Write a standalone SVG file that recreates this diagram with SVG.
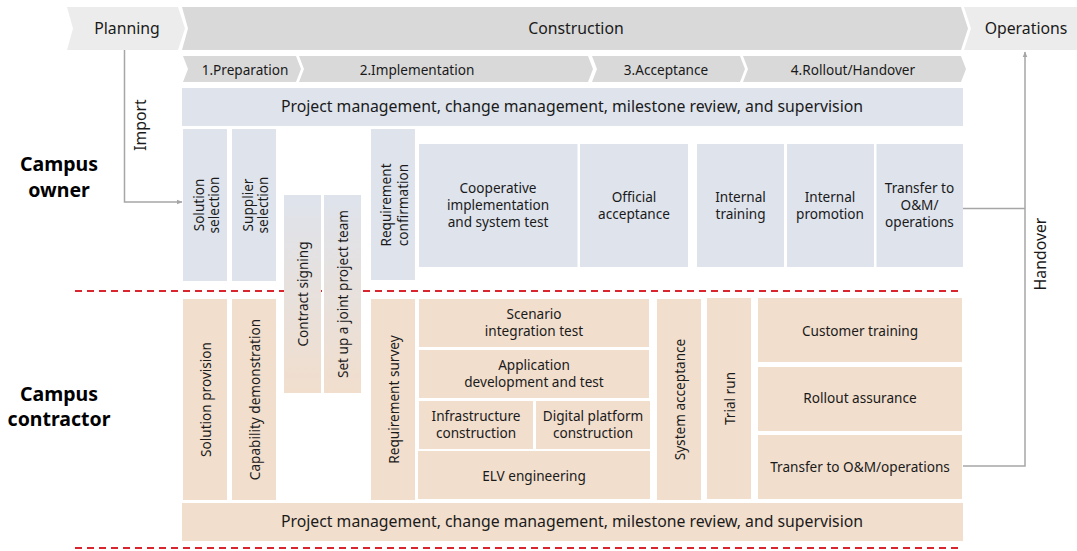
<svg xmlns="http://www.w3.org/2000/svg" width="1077" height="551" viewBox="0 0 1077 551">
<style>
text{font-family:"Noto Sans","Open Sans","Liberation Sans",sans-serif;fill:#1a1a1a;text-anchor:middle;dominant-baseline:central}
.t15{font-size:15.8px}
.t13{font-size:13.6px}
.lbl{font-size:19.5px;font-weight:bold;fill:#000}
.ow{fill:#dee3ec}
.co{fill:#f1decd}
.chl{fill:#ececec}
.chd{fill:#d9d9d9}
.conn{fill:none;stroke:#a6a6a6;stroke-width:1.5}
.dash{fill:none;stroke:#d9262e;stroke-width:2;stroke-dasharray:7 5}
</style>
<defs>
<linearGradient id="grad" x1="0" y1="0" x2="0" y2="1">
<stop offset="0" stop-color="#dee3ec"/>
<stop offset="1" stop-color="#f1decd"/>
</linearGradient>
<marker id="arr" viewBox="0 0 10 10" refX="9" refY="5" markerWidth="6" markerHeight="6" orient="auto" markerUnits="userSpaceOnUse">
<path d="M0,1 L10,5 L0,9 z" fill="#a6a6a6"/>
</marker>
</defs>

<g id="phases">
<g id="planning"><polygon class="chl" points="67,7 178,7 185,28.5 178,50 67,50 73,28.5"/><text class="t15" x="127" y="28">Planning</text></g>
<g id="construction"><polygon class="chd" points="182,7 961,7 968,28.5 961,50 182,50 188,28.5"/><text class="t15" x="576" y="28">Construction</text></g>
<g id="operations"><polygon class="chl" points="964,7 1077,7 1077,50 964,50 971,28.5"/><text class="t15" x="1026" y="28">Operations</text></g>
<g id="prep"><polygon class="chd" points="183,56 296,56 301,69 296,82 183,82 188,69"/><text class="t13" x="245" y="69">1.Preparation</text></g>
<g id="impl"><polygon class="chd" points="299,56 588,56 593,69 588,82 299,82 304,69"/><text class="t13" x="417" y="69">2.Implementation</text></g>
<g id="accept"><polygon class="chd" points="592,56 740,56 745,69 740,82 592,82 597,69"/><text class="t13" x="666" y="69">3.Acceptance</text></g>
<g id="rollout"><polygon class="chd" points="743,56 961,56 966,69 961,82 743,82 748,69"/><text class="t13" x="853" y="69">4.Rollout/Handover</text></g>
</g>

<g id="lanes">
<line class="dash" x1="75" y1="291" x2="962" y2="291"/>
<line class="dash" x1="75" y1="548" x2="962" y2="548"/>
<g id="owner-label"><text class="lbl" x="59" y="163">Campus</text><text class="lbl" x="59" y="189">owner</text></g>
<g id="contractor-label"><text class="lbl" x="59" y="393">Campus</text><text class="lbl" x="59" y="418">contractor</text></g>
</g>

<g id="connectors">
<polyline class="conn" points="124.5,50 124.5,202 182,202" marker-end="url(#arr)"/>
<text class="t15" transform="translate(140,125) rotate(-90)">Import</text>
<polyline class="conn" points="963,208.5 1025,208.5"/>
<polyline class="conn" points="963,466 1025,466 1025,52" marker-end="url(#arr)"/>
<text class="t15" transform="translate(1040,254) rotate(-90)">Handover</text>
</g>

<g id="pm-owner"><rect class="ow" x="182" y="88" width="781" height="38"/><text class="t15" x="572" y="106">Project management, change management, milestone review, and supervision</text></g>

<g id="solution-selection"><rect class="ow" x="183" y="129" width="44" height="152"/><text class="t13" transform="translate(205,205) rotate(-90)"><tspan x="0" y="-7.5">Solution</tspan><tspan x="0" y="8">selection</tspan></text></g>
<g id="supplier-selection"><rect class="ow" x="232" y="129" width="44" height="152"/><text class="t13" transform="translate(254,205) rotate(-90)"><tspan x="0" y="-7.5">Supplier</tspan><tspan x="0" y="8">selection</tspan></text></g>
<g id="req-confirm"><rect class="ow" x="371" y="129" width="44" height="151"/><text class="t13" transform="translate(393,205) rotate(-90)"><tspan x="0" y="-8.5">Requirement</tspan><tspan x="0" y="8.5">confirmation</tspan></text></g>
<g id="coop-impl"><rect class="ow" x="419" y="144" width="158.5" height="123"/><text class="t13" x="498" y="187">Cooperative</text><text class="t13" x="498" y="204">implementation</text><text class="t13" x="498" y="221">and system test</text></g>
<g id="official-accept"><rect class="ow" x="580" y="144" width="108" height="123"/><text class="t13" x="634" y="196">Official</text><text class="t13" x="634" y="213">acceptance</text></g>
<g id="internal-training"><rect class="ow" x="697" y="144" width="87" height="123"/><text class="t13" x="740.5" y="196">Internal</text><text class="t13" x="740.5" y="213">training</text></g>
<g id="internal-promotion"><rect class="ow" x="787" y="144" width="87" height="123"/><text class="t13" x="830" y="196">Internal</text><text class="t13" x="830" y="213">promotion</text></g>
<g id="transfer-owner"><rect class="ow" x="876.5" y="144" width="86.5" height="123"/><text class="t13" x="919.5" y="187">Transfer to</text><text class="t13" x="919.5" y="204">O&amp;M/</text><text class="t13" x="919.5" y="221">operations</text></g>

<g id="contract-signing"><rect fill="url(#grad)" x="284" y="195" width="37" height="198"/><text class="t13" transform="translate(302.5,294) rotate(-90)">Contract signing</text></g>
<g id="joint-team"><rect fill="url(#grad)" x="324" y="195" width="37" height="198"/><text class="t13" transform="translate(342.5,294) rotate(-90)">Set up a joint project team</text></g>

<g id="solution-provision"><rect class="co" x="183" y="299" width="44" height="201"/><text class="t13" transform="translate(205,399.5) rotate(-90)">Solution provision</text></g>
<g id="capability-demo"><rect class="co" x="232" y="299" width="44" height="201"/><text class="t13" transform="translate(254,399.5) rotate(-90)">Capability demonstration</text></g>
<g id="req-survey"><rect class="co" x="371" y="299" width="44" height="201"/><text class="t13" transform="translate(393,399.5) rotate(-90)">Requirement survey</text></g>
<g id="scenario-test"><rect class="co" x="419" y="299" width="230" height="48"/><text class="t13" x="534" y="313">Scenario</text><text class="t13" x="534" y="330">integration test</text></g>
<g id="app-dev"><rect class="co" x="419" y="350" width="230" height="48"/><text class="t13" x="534" y="364">Application</text><text class="t13" x="534" y="381">development and test</text></g>
<g id="infra"><rect class="co" x="419" y="401" width="114" height="48"/><text class="t13" x="476" y="415">Infrastructure</text><text class="t13" x="476" y="432">construction</text></g>
<g id="digital"><rect class="co" x="536" y="401" width="114" height="48"/><text class="t13" x="593" y="415">Digital platform</text><text class="t13" x="593" y="432">construction</text></g>
<g id="elv"><rect class="co" x="418" y="451" width="232" height="48"/><text class="t13" x="534" y="475">ELV engineering</text></g>
<g id="system-accept"><rect class="co" x="657" y="299" width="44" height="201"/><text class="t13" transform="translate(679,399.5) rotate(-90)">System acceptance</text></g>
<g id="trial-run"><rect class="co" x="707" y="298" width="44" height="201"/><text class="t13" transform="translate(729,398.5) rotate(-90)">Trial run</text></g>
<g id="customer-training"><rect class="co" x="758" y="298" width="204" height="64"/><text class="t13" x="860" y="330">Customer training</text></g>
<g id="rollout-assurance"><rect class="co" x="758" y="367" width="204" height="64"/><text class="t13" x="860" y="397">Rollout assurance</text></g>
<g id="transfer-contractor"><rect class="co" x="758" y="435" width="204" height="64"/><text class="t13" x="860" y="466">Transfer to O&amp;M/operations</text></g>

<g id="pm-contractor"><rect class="co" x="182" y="503" width="781" height="38"/><text class="t15" x="572" y="521">Project management, change management, milestone review, and supervision</text></g>
</svg>
